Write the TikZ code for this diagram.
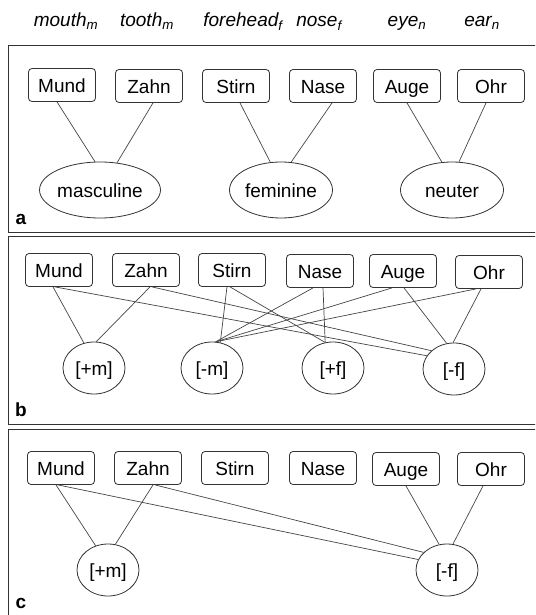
\documentclass[tikz,border=0pt]{standalone}
\usepackage{fontspec}
\setmainfont{Liberation Sans}
\usetikzlibrary{shapes.geometric}
\definecolor{ink}{HTML}{333333}
\definecolor{lnk}{HTML}{444444}
\begin{document}
\begin{tikzpicture}[x=1pt,y=-1pt,
  wordbox/.style={draw=ink,line width=0.8pt,rounded corners=3.5pt,minimum width=67pt,minimum height=33pt,inner sep=0pt,text height=16pt,text depth=1pt,font=\fontsize{19}{22}\selectfont},
  bigell/.style={draw=ink,line width=0.8pt,ellipse,minimum width=103pt,minimum height=56pt,inner sep=0pt,text height=16pt,text depth=1pt,font=\fontsize{19}{22}\selectfont},
  smallell/.style={draw=ink,line width=0.8pt,ellipse,minimum width=62pt,minimum height=52pt,inner sep=0pt,text height=16pt,text depth=1pt,font=\fontsize{19}{22}\selectfont},
  toplab/.style={anchor=base,inner sep=0pt,font=\fontsize{19}{22}\selectfont\itshape},
  panlab/.style={inner sep=0pt,font=\fontsize{19}{22}\selectfont\bfseries},
  frame/.style={draw=ink,line width=0.9pt},
  conn/.style={draw=lnk,line width=0.7pt}]
\useasboundingbox (0,0) rectangle (535,615);
\clip (0,0) rectangle (535,615);
% top labels
\node[toplab] (tl1) at (66,27) {mouth\textsubscript{m}};
\node[toplab] (tl2) at (147,27) {tooth\textsubscript{m}};
\node[toplab] (tl3) at (243,27) {forehead\textsubscript{f}};
\node[toplab] (tl4) at (319,27) {nose\textsubscript{f}};
\node[toplab] (tl5) at (407,27) {eye\textsubscript{n}};
\node[toplab] (tl6) at (482,27) {ear\textsubscript{n}};
% frames
\draw[frame] (545,45) -- (8,45) -- (8,232) -- (545,232);
\draw[frame] (545,236) -- (8,236) -- (8,424) -- (545,424);
\draw[frame] (545,429) -- (8,429) -- (8,625);
\node[panlab] (la) at (21,219) {a};
\node[panlab] (lb) at (21,410) {b};
\node[panlab] (lc) at (21,603) {c};
% ---------- panel a
\node[wordbox] (aM) at (62,85) {Mund};
\node[wordbox] (aZ) at (149,86) {Zahn};
\node[wordbox] (aS) at (236,86) {Stirn};
\node[wordbox] (aN) at (323,86) {Nase};
\node[wordbox] (aA) at (407,86) {Auge};
\node[wordbox] (aO) at (491,86) {Ohr};
\node[bigell] (masc) at (100,190) {masculine};
\node[bigell] (fem) at (281,190) {feminine};
\node[bigell] (neu) at (452,190) {neuter};
\draw[conn] ([xshift=-5pt]aM.south) -- (masc.100);
\draw[conn] ([xshift=4pt]aZ.south) -- (masc.58);
\draw[conn] ([xshift=4pt]aS.south) -- (fem.111);
\draw[conn] ([xshift=9pt]aN.south) -- (fem.70);
\draw[conn] ([xshift=0pt]aA.south) -- (neu.110);
\draw[conn] ([xshift=-5pt]aO.south) -- (neu.76);
% ---------- panel b
\node[wordbox] (bM) at (59,270) {Mund};
\node[wordbox] (bZ) at (146,270) {Zahn};
\node[wordbox] (bS) at (232,270) {Stirn};
\node[wordbox] (bN) at (320,271) {Nase};
\node[wordbox] (bA) at (403,271) {Auge};
\node[wordbox] (bO) at (489,272) {Ohr};
\node[smallell] (pm) at (94,368) {[+m]};
\node[smallell] (mm) at (212,368) {[-m]};
\node[smallell] (pf) at (333,368) {[+f]};
\node[smallell] (mf) at (454,369) {[-f]};
\draw[conn] ([xshift=-6pt]bM.south) -- (pm.112);
\draw[conn] ([xshift=4pt]bZ.south) -- (pm.85);
\draw[conn] ([xshift=-4pt]bM.south) -- (mf.154);
\draw[conn] ([xshift=6pt]bZ.south) -- (mf.141);
\draw[conn] ([xshift=-5pt]bS.south) -- (mm.72);
\draw[conn] ([xshift=-2pt]bS.south) -- (pf.107);
\draw[conn] ([xshift=-7pt]bN.south) -- (mm.82);
\draw[conn] ([xshift=3pt]bN.south) -- (pf.107);
\draw[conn] ([xshift=-11pt]bA.south) -- (mm.82);
\draw[conn] ([xshift=-13pt]bO.south) -- (mm.82);
\draw[conn] ([xshift=1pt]bA.south) -- (mf.106);
\draw[conn] ([xshift=-8pt]bO.south) -- (mf.92);
% ---------- panel c
\node[wordbox] (cM) at (61,468) {Mund};
\node[wordbox] (cZ) at (148,468) {Zahn};
\node[wordbox] (cS) at (235,468) {Stirn};
\node[wordbox] (cN) at (323,468) {Nase};
\node[wordbox] (cA) at (406,469) {Auge};
\node[wordbox] (cO) at (491,469) {Ohr};
\node[smallell] (cpm) at (108,570) {[+m]};
\node[smallell] (cmf) at (447,570) {[-f]};
\draw[conn] ([xshift=-5pt]cM.south) -- (cpm.117);
\draw[conn] ([xshift=5pt]cZ.south) -- (cpm.74);
\draw[conn] ([xshift=-3pt]cM.south) -- (cmf.160);
\draw[conn] ([xshift=7pt]cZ.south) -- (cmf.143);
\draw[conn] ([xshift=0pt]cA.south) -- (cmf.107);
\draw[conn] ([xshift=-8pt]cO.south) -- (cmf.77);
\end{tikzpicture}
\end{document}
